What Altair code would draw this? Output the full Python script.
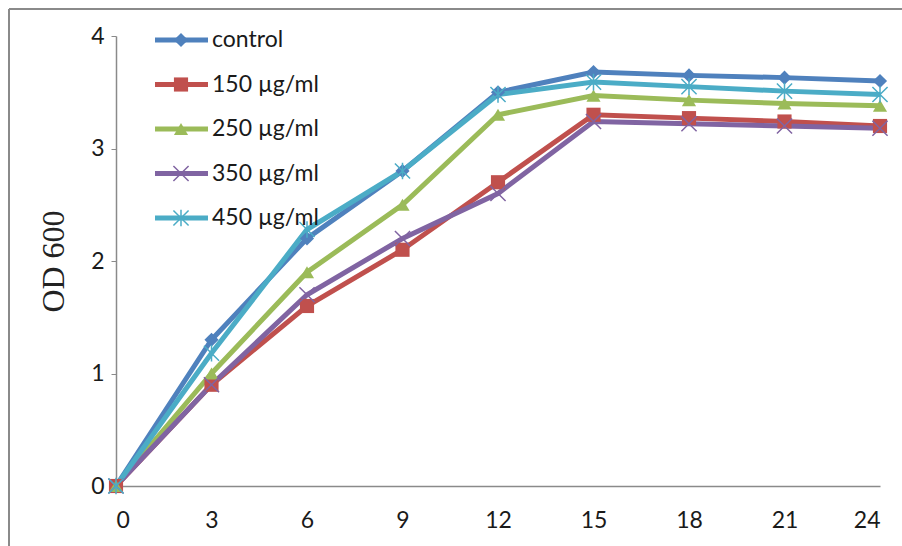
import altair as alt
import pandas as pd

hours = [0, 3, 6, 9, 12, 15, 18, 21, 24]
series_names = ["control", "150 µg/ml", "250 µg/ml", "350 µg/ml", "450 µg/ml"]
control = [0, 1.30, 2.20, 2.80, 3.50, 3.68, 3.65, 3.63, 3.60]
c150 = [0, 0.90, 1.60, 2.10, 2.70, 3.30, 3.27, 3.24, 3.20]
c250 = [0, 1.00, 1.90, 2.50, 3.30, 3.47, 3.43, 3.40, 3.38]
c350 = [0, 0.90, 1.70, 2.20, 2.60, 3.24, 3.22, 3.20, 3.18]
c450 = [0, 1.18, 2.28, 2.80, 3.48, 3.59, 3.55, 3.51, 3.48]
colors = ["#4F81BD", "#C0504D", "#9BBB59", "#8064A2", "#4BACC6"]
shapes = ["diamond", "square", "triangle-up",
          "M-1,-1L1,1M-1,1L1,-1",
          "M-1,-1L1,1M-1,1L1,-1M0,-1.1L0,1.1"]
y_ticks = [0, 1, 2, 3, 4]

rows = []
for name, vals in zip(series_names, [control, c150, c250, c350, c450]):
    for h, v in zip(hours, vals):
        rows.append({"series": name, "hour": h, "od": v})
df = pd.DataFrame(rows)
legend_df = pd.DataFrame({"series": series_names, "idx": list(range(len(series_names)))})

FONT = "Lato"
color_scale = alt.Scale(domain=series_names, range=colors)
shape_scale = alt.Scale(domain=series_names, range=shapes)
filled_set = series_names[:3]
open_set = series_names[3:]

x_enc = alt.X("hour:Q", scale=alt.Scale(domain=[0, 24], nice=False),
              axis=alt.Axis(values=hours, title=None, ticks=False, tickSize=0,
                            labelPadding=23, grid=False, domainColor="#8a8a8a",
                            domainWidth=1.5, labelFontSize=23, labelFont=FONT,
                            labelColor="#1a1a1a"))
y_enc = alt.Y("od:Q", scale=alt.Scale(domain=[0, 4], nice=False),
              axis=alt.Axis(values=y_ticks, format="d", title="OD 600", grid=False,
                            tickSize=5, tickColor="#8a8a8a", domainColor="#8a8a8a",
                            domainWidth=1.5, labelPadding=7, labelFontSize=23,
                            labelFont=FONT, labelColor="#1a1a1a",
                            titleFont="Liberation Serif", titleFontSize=32,
                            titleFontWeight="normal", titleColor="#222222",
                            titlePadding=20))
col = alt.Color("series:N", scale=color_scale, legend=None)
shp = alt.Shape("series:N", scale=shape_scale, legend=None)

base = alt.Chart(df)
lines = base.mark_line(strokeWidth=5).encode(x=x_enc, y=y_enc, color=col,
                                             detail="series:N")
pts_filled = base.transform_filter(
    alt.FieldOneOfPredicate(field="series", oneOf=filled_set)
).mark_point(filled=True, opacity=1, size=200).encode(x="hour:Q", y="od:Q", color=col, shape=shp)
pts_open = base.transform_filter(
    alt.FieldOneOfPredicate(field="series", oneOf=open_set)
).mark_point(filled=False, opacity=1, size=230, strokeWidth=1.5).encode(
    x="hour:Q", y="od:Q", color=col, shape=shp)

main = alt.layer(lines, pts_filled, pts_open)

ly = alt.Y("idx:Q", scale=alt.Scale(domain=[0, 4], range=[4, 182]), axis=None)
leg = alt.Chart(legend_df)
leg_line = leg.mark_rule(strokeWidth=5).encode(
    x=alt.value(39), x2=alt.value(92), y=ly, color=col)
leg_pf = leg.transform_filter(
    alt.FieldOneOfPredicate(field="series", oneOf=filled_set)
).mark_point(filled=True, opacity=1, size=200).encode(
    x=alt.value(65), y=ly, color=col, shape=shp)
leg_po = leg.transform_filter(
    alt.FieldOneOfPredicate(field="series", oneOf=open_set)
).mark_point(filled=False, opacity=1, size=230, strokeWidth=1.5).encode(
    x=alt.value(65), y=ly, color=col, shape=shp)
leg_text = leg.mark_text(align="left", baseline="middle", fontSize=23, font=FONT,
                         color="#1a1a1a", dx=0).encode(
    x=alt.value(96), y=ly, text="series:N")
legend = alt.layer(leg_line, leg_pf, leg_po, leg_text)

frame_df = pd.DataFrame({"k": [0]})
frame_top = alt.Chart(frame_df).mark_rule(color="#8a8a8a", strokeWidth=2).encode(
    x=alt.value(-107), x2=alt.value(786), y=alt.value(-27))
frame_left = alt.Chart(frame_df).mark_rule(color="#8a8a8a", strokeWidth=2).encode(
    x=alt.value(-107), y=alt.value(-27), y2=alt.value(510))

chart = alt.layer(frame_top, frame_left, main, legend).resolve_scale(
    y="independent"
).properties(
    width=764, height=450,
    autosize=alt.AutoSizeParams(type="none"),
    padding={"left": 116, "top": 36, "right": 22, "bottom": 60},
    background="white",
).configure_view(stroke=None)

chart.save("out.html", embed_options={"renderer": "svg", "actions": False})
